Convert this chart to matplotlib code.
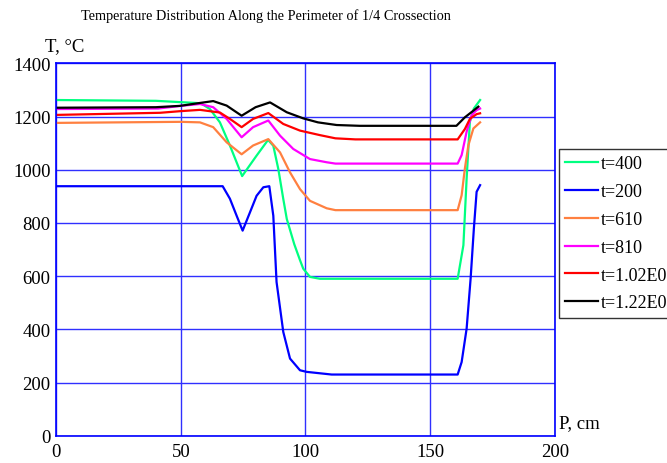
import matplotlib.pyplot as plt

plt.rcParams['font.family'] = ['Liberation Serif', 'DejaVu Serif']

# t=400
p_400 = [0, 40, 50, 58, 61.7, 65.7, 69.7, 74.6, 80.4, 85.0, 87.1, 89.1, 91.1, 92.5, 95.5, 97.8, 99.1, 101.8, 105.8, 161, 163.3, 164.6, 165.9, 167.5, 170]
t_400 = [1262, 1259, 1254, 1250, 1228, 1178, 1091, 976, 1053, 1112, 1090, 1003, 890, 815, 720, 660, 628, 597, 590, 590, 716, 967, 1180, 1230, 1262]
# t=200
p_200 = [0, 66.8, 69.7, 72.4, 74.8, 77.8, 80.4, 83.1, 85.5, 87.1, 88.4, 91.1, 93.8, 97.8, 100.5, 110.5, 161, 162.6, 164.6, 166.2, 167.5, 168.6, 170]
t_200 = [938, 938, 891, 827, 771, 841, 902, 934, 938, 827, 578, 390, 290, 246, 240, 230, 230, 277, 403, 591, 779, 917, 942]
# t=610
p_610 = [0, 50, 57.7, 63, 68.4, 74.4, 79, 85.1, 89.8, 93.8, 97.8, 101.8, 108.5, 112, 161, 162.6, 163.9, 165.3, 167.3, 170]
t_610 = [1176, 1180, 1178, 1160, 1103, 1058, 1091, 1115, 1065, 990, 927, 883, 855, 848, 848, 904, 1005, 1092, 1155, 1178]
# t=810
p_810 = [0, 41, 50, 57.7, 63, 68.4, 74.4, 79, 85.1, 89.8, 95.1, 101.8, 108.5, 112, 161, 162.6, 164.6, 166.6, 168.6, 170]
t_810 = [1228, 1230, 1240, 1247, 1235, 1191, 1122, 1160, 1185, 1128, 1078, 1040, 1028, 1023, 1023, 1055, 1143, 1205, 1224, 1230]
# t=1.02E03
p_1020 = [0, 41.7, 49.7, 57.7, 65.7, 69.7, 74.4, 79, 85.1, 91.1, 97.8, 105.8, 112, 120, 161, 163.9, 165.9, 168.6, 170]
t_1020 = [1206, 1214, 1220, 1225, 1215, 1191, 1160, 1191, 1213, 1172, 1147, 1130, 1118, 1114, 1114, 1153, 1191, 1209, 1212]
# t=1.22E03
p_1220 = [0, 40, 49.7, 57.7, 63, 68.4, 74.4, 80, 85.8, 92.5, 99.1, 105, 112.5, 121.8, 160.5, 163.9, 167.3, 169.3]
t_1220 = [1233, 1235, 1240, 1251, 1258, 1241, 1203, 1235, 1253, 1216, 1193, 1178, 1168, 1165, 1165, 1197, 1222, 1237]

labels = ['t=400', 't=200', 't=610', 't=810', 't=1.02E03', 't=1.22E03']
colors = ['#00ff80', '#0000ff', '#ff8040', '#ff00ff', '#ff0000', '#000000']

fig = plt.figure(figsize=(6.67, 4.64), dpi=100)
ax = fig.add_axes([0.084, 0.0588, 0.748, 0.8026])

series = [(p_400, t_400), (p_200, t_200), (p_610, t_610),
          (p_810, t_810), (p_1020, t_1020), (p_1220, t_1220)]
for (p, t), lab, c in zip(series, labels, colors):
    ax.plot(p, t, color=c, lw=1.6, label=lab)

ax.set_xlim(0, 200)
ax.set_ylim(0, 1400)
ax.set_xticks([0, 50, 100, 150, 200])
ax.set_yticks(range(0, 1401, 200))
ax.grid(True, color='#3030ff', lw=1.0)
ax.set_axisbelow(True)
for s in ax.spines.values():
    s.set_color('#0000ff')
    s.set_linewidth(1.2)
ax.tick_params(length=0, labelsize=13.5, colors='black')
ax.tick_params(axis='x', pad=5)
ax.tick_params(axis='y', pad=4)

fig.text(266 / 667, 1 - 16 / 464, 'Temperature Distribution Along the Perimeter of 1/4 Crossection',
         ha='center', va='center', fontsize=10.3)
fig.text(45 / 667, 1 - 47 / 464, 'T, °C', ha='left', va='center', fontsize=13.5)
fig.text(559 / 667, 1 - 424 / 464, 'P, cm', ha='left', va='center', fontsize=13.5)

leg = ax.legend(loc='upper left', bbox_to_anchor=(559 / 667, 1 - 150 / 464),
                bbox_transform=fig.transFigure, fontsize=13, frameon=True,
                fancybox=False, borderpad=0.35, labelspacing=0.6,
                handlelength=1.8, handletextpad=0.15, borderaxespad=0)
leg.get_frame().set_edgecolor('black')
leg.get_frame().set_linewidth(1.0)

fig.savefig('out.png', dpi=100)
